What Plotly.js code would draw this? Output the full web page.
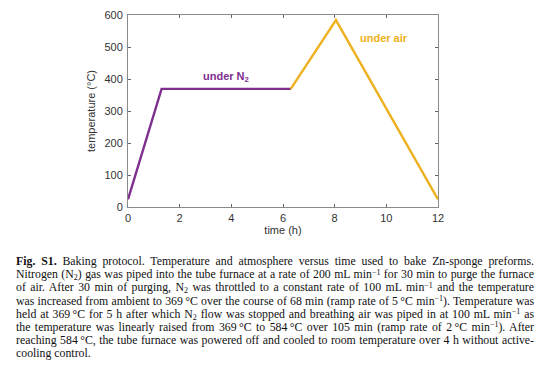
<!DOCTYPE html>
<html>
<head>
<meta charset="utf-8">
<script src="https://cdn.plot.ly/plotly-3.0.1.min.js"></script>
<style>
  html, body { margin: 0; padding: 0; background: #fff; }
  #wrap { position: relative; width: 554px; height: 371px; overflow: hidden; }
  #chart { position: absolute; left: 0; top: 0; width: 554px; height: 371px; }
  #caption { position: absolute; left: 16px; top: 255px; width: 518px;
    font-family: "Liberation Serif", "Times New Roman", serif; font-size: 11.8px;
    line-height: 13.2px; color: #111; }
  #caption div { text-align: justify; text-align-last: justify; white-space: nowrap; }
  #caption div.last { text-align: left; text-align-last: left; }
  #caption sup { font-size: 0.68em; position: relative; top: -0.45em; vertical-align: 0; line-height: 0; }
  #caption sub { font-size: 0.68em; position: relative; top: 0.25em; vertical-align: 0; line-height: 0; }
</style>
</head>
<body>
<div id="wrap">
  <div id="chart"></div>
  <div id="caption">
    <div><b>Fig. S1.</b> Baking protocol. Temperature and atmosphere versus time used to bake Zn-sponge preforms.</div>
    <div>Nitrogen (N<sub>2</sub>) gas was piped into the tube furnace at a rate of 200 mL min<sup>−1</sup> for 30 min to purge the furnace</div>
    <div>of air. After 30 min of purging, N<sub>2</sub> was throttled to a constant rate of 100 mL min<sup>−1</sup> and the temperature</div>
    <div>was increased from ambient to 369&#8201;°C over the course of 68 min (ramp rate of 5&#8201;°C min<sup>−1</sup>). Temperature was</div>
    <div>held at 369&#8201;°C for 5 h after which N<sub>2</sub> flow was stopped and breathing air was piped in at 100 mL min<sup>−1</sup> as</div>
    <div>the temperature was linearly raised from 369&#8201;°C to 584&#8201;°C over 105 min (ramp rate of 2&#8201;°C min<sup>−1</sup>). After</div>
    <div>reaching 584&#8201;°C, the tube furnace was powered off and cooled to room temperature over 4 h without active-</div>
    <div class="last">cooling control.</div>
  </div>
</div>
<script>
// Data
const timeN2 = [0, 1.3, 6.3];
const tempN2 = [24, 369, 369];
const timeAir = [6.3, 8.05, 12];
const tempAir = [369, 584, 24];
const xTicks = [0, 2, 4, 6, 8, 10, 12];
const yTicks = [0, 100, 200, 300, 400, 500, 600];
const labelN2 = {text: "under N<sub>2</sub>", x: 3.8, y: 405};
const labelAir = {text: "under air", x: 9.9, y: 528};

const purple = "#7E2F8E";
const orange = "#EDB120";

const traces = [
  {x: timeN2, y: tempN2, type: "scatter", mode: "lines",
   line: {color: purple, width: 2.4}, hoverinfo: "skip"},
  {x: timeAir, y: tempAir, type: "scatter", mode: "lines",
   line: {color: orange, width: 2.4}, hoverinfo: "skip"}
];

const axisCommon = {
  showline: true, mirror: "ticks", linecolor: "#8a8a8a", linewidth: 1,
  ticks: "inside", ticklen: 3, tickcolor: "#666", tickwidth: 1,
  showgrid: false, zeroline: false,
  tickfont: {family: "Liberation Sans, Arial, sans-serif", size: 11, color: "#333"}
};

const layout = {
  width: 554, height: 371,
  margin: {l: 128, r: 116, t: 15, b: 164},
  paper_bgcolor: "#fff", plot_bgcolor: "#fff",
  showlegend: false,
  xaxis: Object.assign({}, axisCommon, {
    range: [0, 12], tickvals: xTicks, ticktext: xTicks.map(String),
    ticklabelstandoff: 1,
    title: {text: "time (h)", standoff: 2,
      font: {family: "Liberation Sans, Arial, sans-serif", size: 11, color: "#333"}}
  }),
  yaxis: Object.assign({}, axisCommon, {
    range: [0, 600], tickvals: yTicks, ticktext: yTicks.map(String),
    ticklabelstandoff: 2,
    title: {text: "temperature (°C)", standoff: 6,
      font: {family: "Liberation Sans, Arial, sans-serif", size: 11, color: "#333"}}
  }),
  annotations: [
    {x: labelN2.x, y: labelN2.y, xref: "x", yref: "y", text: "<b>" + labelN2.text + "</b>",
     showarrow: false, font: {family: "Liberation Sans, Arial, sans-serif", size: 11, color: purple}},
    {x: labelAir.x, y: labelAir.y, xref: "x", yref: "y", text: "<b>" + labelAir.text + "</b>",
     showarrow: false, font: {family: "Liberation Sans, Arial, sans-serif", size: 11, color: orange}}
  ]
};

Plotly.newPlot("chart", traces, layout, {displayModeBar: false, staticPlot: true});
</script>
</body>
</html>
